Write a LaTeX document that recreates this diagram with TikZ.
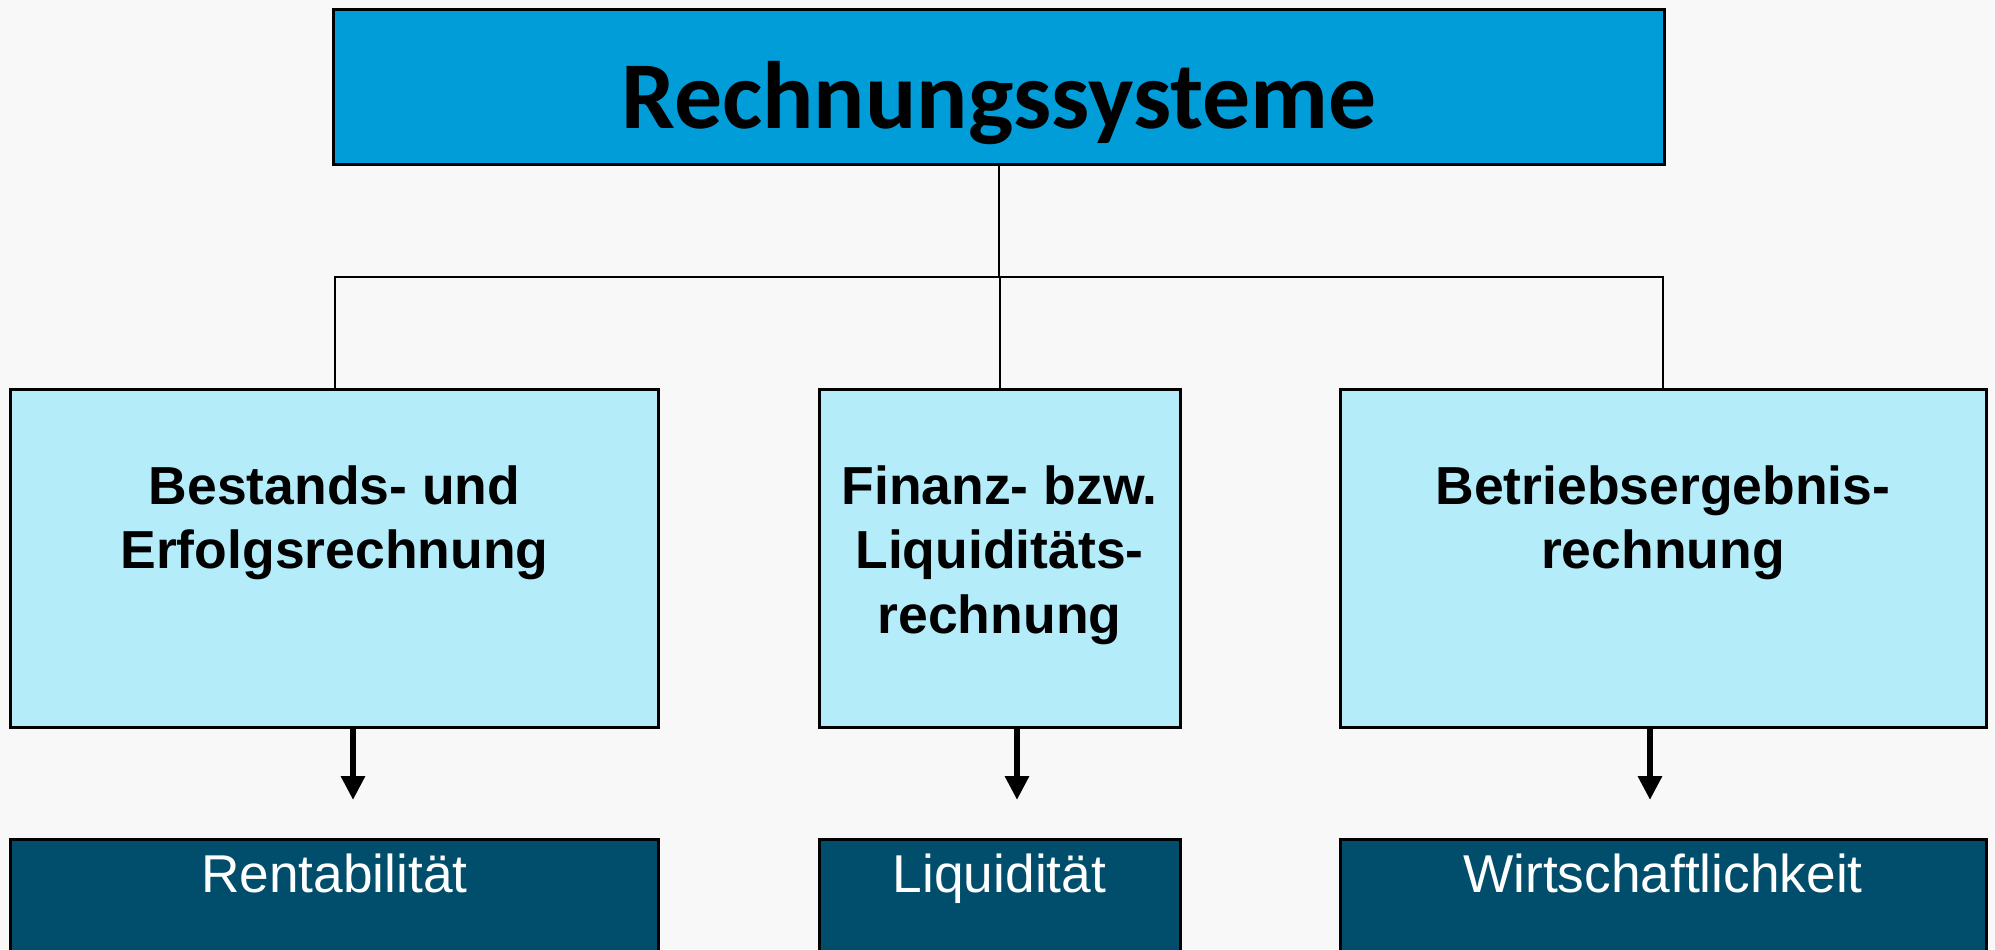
\documentclass[tikz,border=0pt]{standalone}
\usepackage{fontspec}
\setmainfont{Liberation Sans}
\newfontfamily\titlefont{Carlito}
\usetikzlibrary{positioning,arrows.meta}

\definecolor{sysblue}{RGB}{0,157,217}
\definecolor{boxcyan}{RGB}{180,236,250}
\definecolor{darkteal}{RGB}{0,78,107}
\definecolor{bggray}{RGB}{248,248,248}

\tikzset{
  sysbox/.style={draw,line width=1.2pt,fill=sysblue,inner sep=0pt,
    minimum width=532pt,minimum height=62pt,text height=47.6pt,text depth=14.4pt,
    font=\titlefont\bfseries\fontsize{38.3}{46}\selectfont},
  lbox/.style={draw,line width=1.2pt,fill=boxcyan,minimum height=135.2pt},
  ltext/.style={inner sep=0pt,align=center,font=\bfseries\fontsize{21.4}{25.8}\selectfont},
  dbox/.style={draw,line width=1.2pt,fill=darkteal,text=white,inner sep=0pt,
    minimum height=80pt,text height=21.2pt,text depth=58.8pt,
    font=\fontsize{21.3}{25}\selectfont},
  conn/.style={line width=0.8pt},
  res/.style={line width=2.4pt,-{Triangle[width=9.2pt,length=9.6pt]}}
}

\begin{document}
\begin{tikzpicture}[x=0.4pt,y=-0.4pt]
  \path[use as bounding box,clip] (0,0) rectangle (1995,949);
  \fill[bggray] (0,0) rectangle (1995,949);
  % Nodes
  \node[sysbox] (sys) at (999,86.5) {Rechnungssysteme};
  \node[lbox,minimum width=258.8pt] (ber) at (334.5,558) {};
  \node[lbox,minimum width=144.4pt] (fin) at (999.5,558) {};
  \node[lbox,minimum width=258.4pt] (betr) at (1663,558) {};
  \node[ltext,below=31pt of ber.north] (berT) {Bestands- und\\Erfolgsrechnung};
  \node[ltext,below=31pt of fin.north] (finT) {Finanz- bzw.\\Liquiditäts-\\rechnung};
  \node[ltext,below=31pt of betr.north] (betrT) {Betriebsergebnis-\\rechnung};
  \node[dbox,minimum width=258.8pt] (ren) at (334.5,939) {Rentabilität};
  \node[dbox,minimum width=144.4pt] (liq) at (999.5,939) {Liquidität};
  \node[dbox,minimum width=258.4pt] (wir) at (1663,939) {Wirtschaftlichkeit};
  \coordinate (split) at (999,277);
  \coordinate (renA) at (353,800);
  \coordinate (liqA) at (1017,800);
  \coordinate (wirA) at (1650,800);
  % Edges
  \draw[conn] (sys.south) -- (split);
  \draw[conn] (split) -| (ber.north);
  \draw[conn] (split) -| (fin.north);
  \draw[conn] (split) -| (betr.north);
  \draw[res] (ber.south -| renA) -- (renA);
  \draw[res] (fin.south -| liqA) -- (liqA);
  \draw[res] (betr.south -| wirA) -- (wirA);
\end{tikzpicture}
\end{document}
